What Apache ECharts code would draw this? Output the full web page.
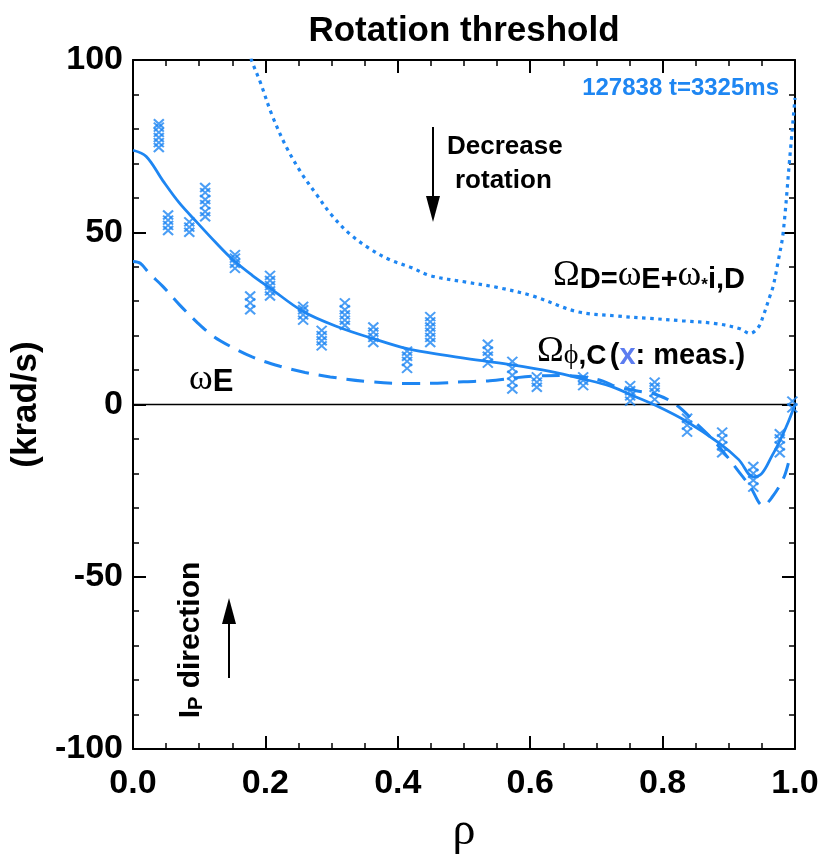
<!DOCTYPE html>
<html><head><meta charset="utf-8">
<script src="https://cdn.jsdelivr.net/npm/echarts@6/dist/echarts.min.js"></script>
<style>html,body{margin:0;padding:0;background:#fff}#c{width:834px;height:860px}</style>
</head><body><div id="c"></div>
<script>
// Ω_φ,C fitted profile (solid)
const rhoOmegaC = [0.00,0.02,0.045,0.07,0.096,0.125,0.151,0.18,0.207,0.257,0.31,0.363,0.414,0.47,0.524,0.573,0.63,0.68,0.72,0.751,0.79,0.837,0.887,0.915,0.937,0.95,0.965,0.977,0.99,1.0];
const valOmegaC = [73.8,72,65,58.5,53,47,42,37.5,33.8,27,22.5,19.1,16.2,14.3,12.8,11.5,9.6,7.4,5.4,2.9,-0.3,-5,-11.4,-16,-21,-20,-15,-10.6,-5,0];
// ω_E (dashed)
const rhoOmegaE = [0.00,0.011,0.025,0.045,0.07,0.096,0.12,0.147,0.18,0.222,0.26,0.298,0.358,0.414,0.46,0.499,0.539,0.58,0.615,0.65,0.68,0.71,0.731,0.76,0.79,0.82,0.852,0.875,0.897,0.915,0.932,0.952,0.965,0.982,0.99];
const valOmegaE = [41.5,41,38,34.3,29,24,20,16.9,13.8,11.1,9.3,8,6.6,6.1,6.2,6.6,6.9,7.8,8.3,8.4,8,6.8,5.1,4,2.9,0,-5.7,-10,-15,-19.5,-23.7,-29.4,-27,-21.7,-17];
// Ω_D = ω_E + ω_*i,D (dotted)
const rhoOmegaD = [0.172,0.179,0.192,0.21,0.232,0.255,0.277,0.30,0.328,0.358,0.388,0.42,0.449,0.504,0.55,0.604,0.67,0.73,0.78,0.83,0.88,0.917,0.932,0.945,0.952,0.962,0.967,0.975,0.982,0.992,1.0];
const valOmegaD = [105,100,93.7,84,74.6,67,61,55,49.4,45.2,42,39.8,37.4,35.5,34,31.5,27,25.7,25,24.3,23.5,22,20.6,22.5,25.7,31.4,34.3,42,49.7,71.4,89];
// measurements (x markers)
const measRho = [0.039,0.039,0.039,0.039,0.039,0.039, 0.053,0.053,0.053,0.053, 0.085,0.085,0.085, 0.109,0.109,0.109,0.109,0.109,0.109, 0.154,0.154,0.154,0.154, 0.177,0.177,0.177, 0.207,0.207,0.207,0.207,0.207, 0.257,0.257,0.257,0.257, 0.285,0.285,0.285,0.285, 0.32,0.32,0.32,0.32,0.32, 0.363,0.363,0.363,0.363, 0.414,0.414,0.414,0.414, 0.449,0.449,0.449,0.449,0.449,0.449, 0.536,0.536,0.536,0.536, 0.573,0.573,0.573,0.573,0.573, 0.61,0.61,0.61, 0.68,0.68,0.68, 0.751,0.751,0.751,0.751, 0.788,0.788,0.788,0.788, 0.837,0.837,0.837, 0.89,0.89,0.89,0.89, 0.937,0.937,0.937,0.937, 0.977,0.977,0.977,0.977, 0.996,0.996];
const measVal = [74.6,76,77.5,79,80.5,81.5, 50.5,52,53.5,55, 50,51.5,53, 54.5,56,58,59.5,61.5,63, 39.5,41,42.5,43.5, 27.5,29.5,31.5, 31.5,33,34.5,36,37.5, 24.5,26,27.5,28.5, 17,18.5,20,21.5, 23,24.5,26,27.5,29.5, 18,19.5,21,22.5, 10.5,12.5,14,15.5, 18,19.5,21,22.5,24,25.5, 12,14,15.5,17.5, 4.5,6.5,8.5,10.5,12.5, 5,6.5,8, 5.5,7,8, 1,2.5,4,5.5, 1.5,3.5,5,6.5, -8,-6,-4, -14,-12,-10,-8, -24,-22,-20,-18, -14,-12,-10,-8.5, -1,1];
const xTicks = ['0.0','0.2','0.4','0.6','0.8','1.0'];
const yTicks = [-100,-50,0,50,100];

const BLUE = '#1e86f2';
const SANS = '"Liberation Sans Narrow","Liberation Sans",Arial,sans-serif';
const SERIF = '"Liberation Serif","Times New Roman",serif';
const zip = (a,b)=>a.map((v,i)=>[v,b[i]]);

const chart = echarts.init(document.getElementById('c'));
const axLine = {show:true,onZero:false,lineStyle:{color:'#000',width:2}};
const axTick = {show:true,inside:true,length:13,lineStyle:{color:'#000',width:2}};
chart.setOption({
  animation:false,
  backgroundColor:'#fff',
  grid:{left:133,right:39,top:60,bottom:96,containLabel:false},
  xAxis:[
    {type:'value',min:0,max:1,interval:0.2,position:'bottom',
      axisLine:axLine,axisTick:axTick,splitLine:{show:false},
      minorTick:{show:true,splitNumber:4,length:6,lineStyle:{color:'#000',width:1.5}},
      axisLabel:{show:true,margin:18,fontFamily:SANS,fontWeight:'bold',fontSize:34,color:'#000',
        formatter:(v)=>xTicks[Math.round(v/0.2)]},
      name:'ρ',nameLocation:'middle',nameGap:60,
      nameTextStyle:{fontFamily:SERIF,fontSize:46,color:'#000'}},
    {type:'value',min:0,max:1,interval:0.2,position:'top',
      axisLine:axLine,axisTick:axTick,
      minorTick:{show:true,splitNumber:4,length:6,lineStyle:{color:'#000',width:1.5}},
      splitLine:{show:false},axisLabel:{show:false}}
  ],
  yAxis:[
    {type:'value',min:-100,max:100,interval:50,position:'left',
      axisLine:axLine,axisTick:axTick,
      minorTick:{show:true,splitNumber:5,length:6,lineStyle:{color:'#000',width:1.5}},
      splitLine:{show:false},
      axisLabel:{show:true,margin:10,fontFamily:SANS,fontWeight:'bold',fontSize:34,color:'#000',
        formatter:(v)=>String(yTicks[Math.round((v+100)/50)])},
      name:'(krad/s)',nameLocation:'middle',nameGap:72,nameRotate:90,
      nameTextStyle:{fontFamily:SANS,fontWeight:'bold',fontSize:35,color:'#000'}},
    {type:'value',min:-100,max:100,interval:50,position:'right',
      axisLine:axLine,axisTick:axTick,
      minorTick:{show:true,splitNumber:5,length:6,lineStyle:{color:'#000',width:1.5}},
      splitLine:{show:false},axisLabel:{show:false}}
  ],
  series:[
    {type:'line',name:'OmegaC',data:zip(rhoOmegaC,valOmegaC),smooth:0.35,showSymbol:false,
      lineStyle:{color:BLUE,width:2.8},z:5,
      markLine:{silent:true,symbol:['none','none'],label:{show:false},
        lineStyle:{color:'#000',width:1.3,type:'solid'},data:[{yAxis:0}]}},
    {type:'line',name:'OmegaE',data:zip(rhoOmegaE,valOmegaE),smooth:0.35,showSymbol:false,
      lineStyle:{color:BLUE,width:3,type:[18,10]},z:4},
    {type:'line',name:'OmegaD',data:zip(rhoOmegaD,valOmegaD),smooth:0.35,showSymbol:false,clip:true,
      lineStyle:{color:BLUE,width:3.2,type:[3.5,4.5]},z:4},
    {type:'scatter',name:'meas',data:zip(measRho,measVal),
      symbol:'path://M0,0L10,10M10,0L0,10',symbolSize:[10,9],
      itemStyle:{color:BLUE,borderColor:BLUE,borderWidth:2},z:6}
  ],
  graphic:[
    {type:'text',x:464,y:14,style:{text:'Rotation threshold',fontFamily:SANS,fontWeight:'bold',fontSize:35,fill:'#000',textAlign:'center'}},
    {type:'text',x:779,y:76,style:{text:'127838 t=3325ms',fontFamily:SANS,fontWeight:'bold',fontSize:24,fill:BLUE,textAlign:'right'}},
    // Decrease rotation arrow
    {type:'line',shape:{x1:433,y1:127,x2:433,y2:200},style:{stroke:'#000',lineWidth:2}},
    {type:'polygon',shape:{points:[[426,196],[440,196],[433,222]]},style:{fill:'#000'}},
    {type:'text',x:447,y:134,style:{text:'Decrease',fontFamily:SANS,fontWeight:'bold',fontSize:26,fill:'#000'}},
    {type:'text',x:455,y:168,style:{text:'rotation',fontFamily:SANS,fontWeight:'bold',fontSize:26,fill:'#000'}},
    // Ω_D label
    {type:'text',x:553,y:258,style:{
      text:'{om|Ω}{sb|D=}{om|ω}{sb|E+}{om|ω}{st|*}{sb|i,D}',
      rich:{
        om:{fontFamily:SERIF,fontSize:36,lineHeight:36,verticalAlign:'bottom',fill:'#000'},
        sb:{fontFamily:SANS,fontWeight:'bold',fontSize:29,lineHeight:26,verticalAlign:'bottom',fill:'#000'},
        st:{fontFamily:SANS,fontWeight:'bold',fontSize:17,lineHeight:30,verticalAlign:'bottom',fill:'#000'}
      }}},
    // Ω_φ,C label
    {type:'text',x:537,y:334,style:{
      text:'{om|Ω}{ph|ϕ}{sc|,C} {tx|(}{bx|x}{tx|: meas.)}',
      rich:{
        om:{fontFamily:SERIF,fontSize:36,lineHeight:36,verticalAlign:'bottom',fill:'#000'},
        ph:{fontFamily:SERIF,fontSize:28,lineHeight:20,verticalAlign:'bottom',fill:'#000'},
        sc:{fontFamily:SANS,fontWeight:'bold',fontSize:28,lineHeight:24,verticalAlign:'bottom',fill:'#000'},
        tx:{fontFamily:SANS,fontWeight:'bold',fontSize:29,lineHeight:34,verticalAlign:'bottom',fill:'#000'},
        bx:{fontFamily:SANS,fontWeight:'bold',fontSize:29,lineHeight:34,verticalAlign:'bottom',fill:'#5c7cf0'}
      }}},
    // ω_E label
    {type:'text',x:189,y:362,style:{
      text:'{om|ω}{sb|E}',
      rich:{
        om:{fontFamily:SERIF,fontSize:36,lineHeight:36,verticalAlign:'bottom',fill:'#000'},
        sb:{fontFamily:SANS,fontWeight:'bold',fontSize:31,lineHeight:24,verticalAlign:'bottom',fill:'#000'}
      }}},
    // I_P direction
    {type:'text',x:190,y:640,rotation:Math.PI/2,style:{
      text:'{a|I}{b|P}{a| direction}',
      rich:{
        a:{fontFamily:SANS,fontWeight:'bold',fontSize:30,lineHeight:32,verticalAlign:'bottom',fill:'#000'},
        b:{fontFamily:SANS,fontWeight:'bold',fontSize:20,lineHeight:22,verticalAlign:'bottom',fill:'#000'}
      },textAlign:'center',textVerticalAlign:'middle'}},
    {type:'line',shape:{x1:229,y1:678,x2:229,y2:620},style:{stroke:'#000',lineWidth:2}},
    {type:'polygon',shape:{points:[[222,624],[236,624],[229,598]]},style:{fill:'#000'}}
  ]
});
</script></body></html>
